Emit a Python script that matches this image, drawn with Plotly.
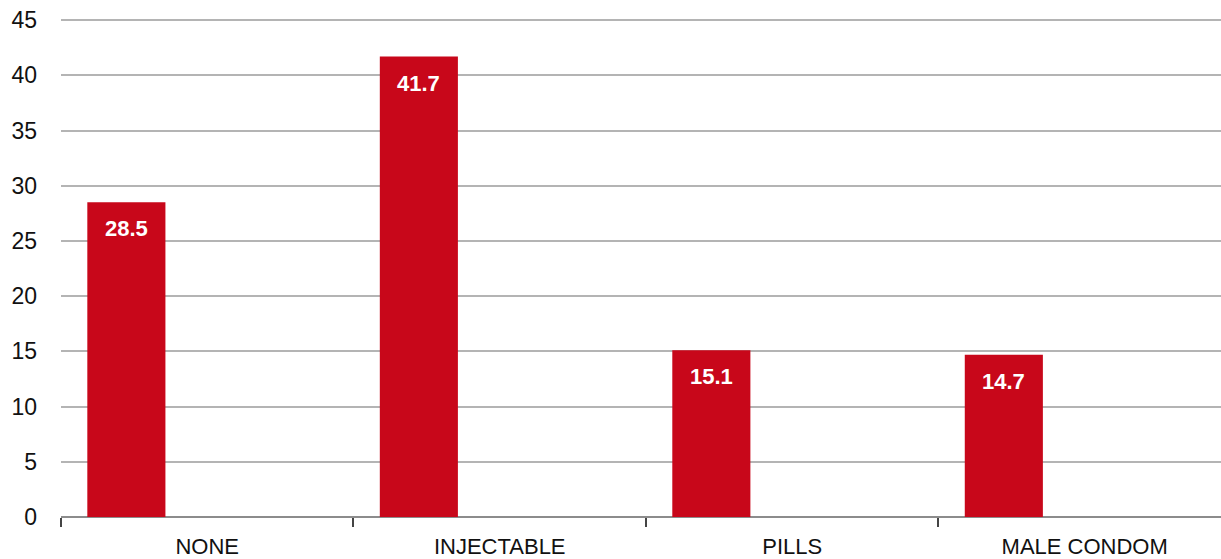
import plotly.graph_objects as go

categories = ["NONE", "INJECTABLE", "PILLS", "MALE CONDOM"]
values = [28.5, 41.7, 15.1, 14.7]
y_ticks = [0, 5, 10, 15, 20, 25, 30, 35, 40, 45]

BAR_OFFSET = -0.41
BAR_WIDTH = 0.267

fig = go.Figure()
fig.add_trace(go.Bar(
    x=categories, y=values,
    marker=dict(color="#C8071A", line=dict(width=0)),
    width=BAR_WIDTH, offset=BAR_OFFSET,
    cliponaxis=False,
))

for i, v in enumerate(values):
    fig.add_annotation(
        x=i + BAR_OFFSET + BAR_WIDTH / 2, y=v, xref="x", yref="y",
        text=f"{v:.1f}", showarrow=False,
        yanchor="top", yshift=-12,
        font=dict(family="Liberation Sans", size=22, color="white", weight="bold"),
    )

fig.update_layout(
    width=1221, height=559,
    margin=dict(l=61, r=0, t=19, b=42, autoexpand=False),
    paper_bgcolor="white", plot_bgcolor="white",
    showlegend=False,
    font=dict(family="Liberation Sans", size=23, color="#111111"),
    xaxis=dict(
        type="category", range=[-0.5, 3.466], automargin=False,
        tickson="boundaries", ticks="outside", ticklen=9, tickwidth=1.5, tickcolor="#444444",
        showline=False, showgrid=False, ticklabelstandoff=14,
        tickfont=dict(size=22, color="#111111"),
    ),
    yaxis=dict(
        range=[0, 45.1], tickvals=y_ticks, automargin=False,
        showgrid=True, gridcolor="#b4b4b4", gridwidth=2,
        zeroline=True, zerolinecolor="#8c8c8c", zerolinewidth=2,
        showline=False, ticks="", ticklabelstandoff=23,
        tickfont=dict(size=23, color="#111111"),
    ),
)

fig.write_html("out.html")
